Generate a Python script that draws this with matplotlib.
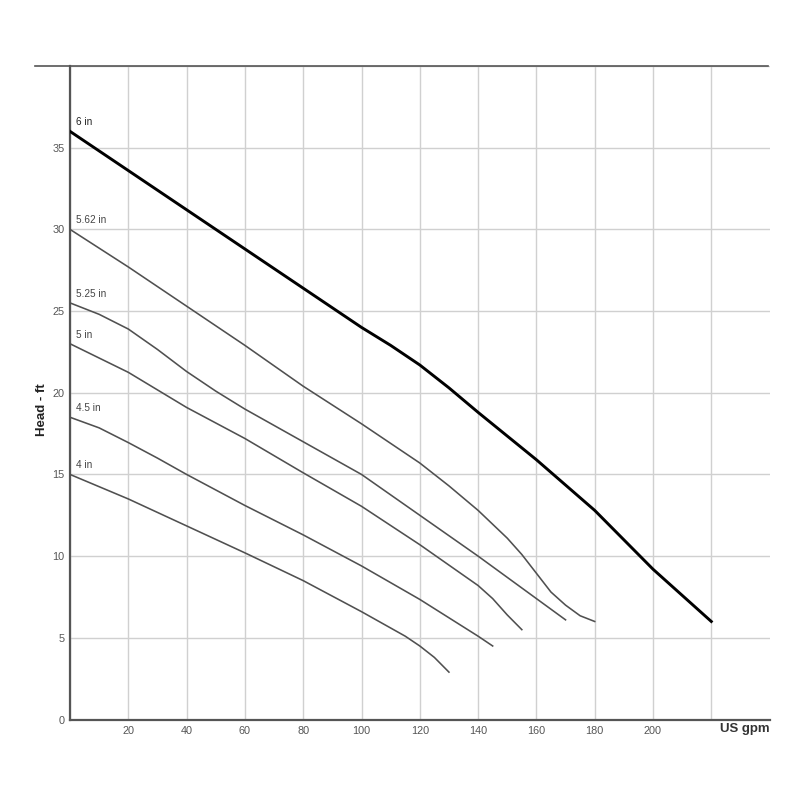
import matplotlib
matplotlib.use("Agg")
import matplotlib.pyplot as plt
from matplotlib.lines import Line2D

plt.rcParams['font.family'] = ['Liberation Sans', 'DejaVu Sans']

# impeller curves (US gpm, head ft)
flow_6 = [0, 20, 40, 60, 80, 100, 110, 120, 130, 140, 160, 180, 190, 200, 210, 220]
head_6 = [36, 33.6, 31.2, 28.8, 26.4, 24.0, 22.9, 21.7, 20.3, 18.8, 15.9, 12.8, 11.0, 9.2, 7.6, 6.0]

flow_562 = [0, 20, 40, 60, 80, 100, 120, 130, 140, 150, 155, 160, 165, 170, 175, 180]
head_562 = [30, 27.7, 25.3, 22.9, 20.4, 18.1, 15.7, 14.3, 12.8, 11.1, 10.1, 8.95, 7.8, 7.0, 6.35, 6.0]

flow_525 = [0, 10, 20, 30, 40, 50, 60, 80, 100, 120, 140, 160, 170]
head_525 = [25.5, 24.8, 23.9, 22.65, 21.3, 20.1, 19.0, 17.0, 15.0, 12.5, 10.0, 7.4, 6.1]

flow_5 = [0, 20, 40, 60, 80, 100, 120, 140, 145, 150, 155]
head_5 = [23.0, 21.25, 19.1, 17.2, 15.1, 13.05, 10.7, 8.2, 7.4, 6.4, 5.5]

flow_45 = [0, 10, 20, 30, 40, 60, 80, 100, 120, 140, 145]
head_45 = [18.5, 17.85, 16.95, 16.0, 15.0, 13.1, 11.3, 9.4, 7.35, 5.1, 4.5]

flow_4 = [0, 20, 40, 60, 80, 100, 110, 115, 120, 125, 130]
head_4 = [15, 13.5, 11.85, 10.2, 8.5, 6.6, 5.6, 5.1, 4.5, 3.8, 2.9]

curve_names = ['6 in', '5.62 in', '5.25 in', '5 in', '4.5 in', '4 in']
curves = [(flow_6, head_6), (flow_562, head_562), (flow_525, head_525),
          (flow_5, head_5), (flow_45, head_45), (flow_4, head_4)]

xticks = [20, 40, 60, 80, 100, 120, 140, 160, 180, 200]
yticks = [0, 5, 10, 15, 20, 25, 30, 35]

fig = plt.figure(figsize=(8, 8), dpi=100)
ax = fig.add_axes([70/800, 80.5/800, 699.6/800, 653.5/800])

for i, (name, (fx, hy)) in enumerate(zip(curve_names, curves)):
    if i == 0:
        ax.plot(fx, hy, color='black', lw=2.1, zorder=3, solid_joinstyle='round')
    else:
        ax.plot(fx, hy, color='#505050', lw=1.15, zorder=3, solid_joinstyle='round')
    ax.text(2, hy[0] + 0.25, name, fontsize=7.2, color='#222222' if i == 0 else '#444444',
            ha='left', va='bottom')

ax.set_xlim(0, 240)
ax.set_ylim(0, 40)
ax.set_xticks(range(0, 240, 20))
ax.set_xticklabels([''] + [str(t) for t in xticks] + [''])
ax.set_yticks(yticks + [40])
ax.set_yticklabels([str(t) for t in yticks] + [''])
ax.tick_params(length=0, labelsize=7.8, labelcolor='#555555')
ax.tick_params(axis='x', pad=5)
ax.tick_params(axis='y', pad=4)
ax.grid(True, color='#d0d0d0', lw=1.0)
ax.set_axisbelow(True)

for s in ['top', 'right']:
    ax.spines[s].set_visible(False)
for s in ['left', 'bottom']:
    ax.spines[s].set_color('#555555')
    ax.spines[s].set_linewidth(1.6)

ax.text(1.0, -0.005, 'US gpm', transform=ax.transAxes, ha='right', va='top',
        fontsize=9.5, fontweight='bold', color='#333333')
fig.text(42/800, 1 - 410/800, 'Head - ft', rotation=90, ha='center', va='center',
         fontsize=9.5, fontweight='bold', color='#222222')

# rule across the top of the chart
fig.add_artist(Line2D([35/800, 768/800], [1 - 66/800, 1 - 66/800],
                      color='#555555', lw=1.2))

fig.savefig('out.png', dpi=100, facecolor='white')
